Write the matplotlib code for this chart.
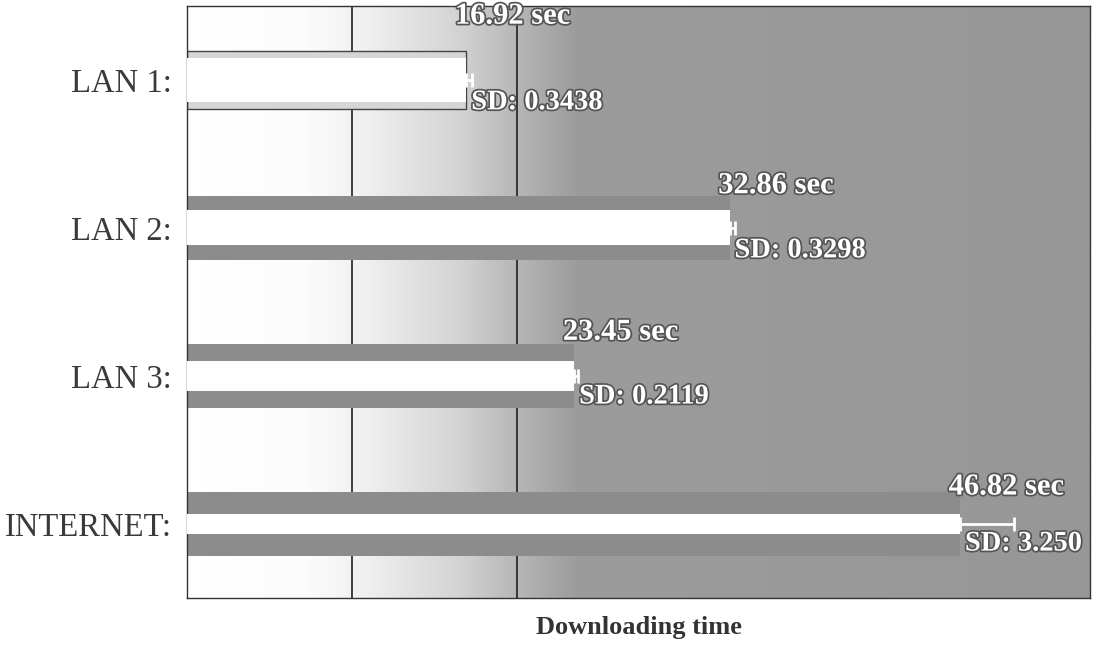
import numpy as np
import matplotlib.pyplot as plt
import matplotlib.patheffects as pe
from matplotlib.colors import LinearSegmentedColormap

categories = ['LAN 1:', 'LAN 2:', 'LAN 3:', 'INTERNET:']
times = [16.92, 32.86, 23.45, 46.82]
sds = [0.3438, 0.3298, 0.2119, 3.250]
time_labels = ['16.92 sec', '32.86 sec', '23.45 sec', '46.82 sec']
sd_labels = ['SD: 0.3438', 'SD: 0.3298', 'SD: 0.2119', 'SD: 3.250']

# look of each bar: outer band colour / height, inner white height
band_colors = ['#d6d6d6', '#8c8c8c', '#8c8c8c', '#8c8c8c']
band_h = [0.39, 0.43, 0.43, 0.43]
inner_h = [0.30, 0.236, 0.203, 0.135]
top_dy = [-0.43, -0.285, -0.295, -0.25]
sd_dy = [0.155, 0.155, 0.142, 0.135]

plt.rcParams['font.family'] = ['Liberation Serif', 'DejaVu Serif']

fig = plt.figure(figsize=(10.96, 6.48), dpi=100)
ax = fig.add_axes([0.1706, 0.077, 0.824, 0.914])

# background: white on the left fading to grey
xs = np.linspace(0, 1, 400)
shade = np.interp(xs, [0, 0.13, 0.2, 0.3, 0.37, 0.43, 1],
                  [0, 0.03, 0.15, 0.42, 0.72, 0.95, 1])
cmap = LinearSegmentedColormap.from_list('bg', ['#ffffff', '#979797'])
ax.imshow(shade[np.newaxis, :], aspect='auto', cmap=cmap, vmin=0, vmax=1,
          extent=[0, 1, 0, 1], transform=ax.transAxes, zorder=0)

y = np.arange(len(categories))
ax.barh(y, times, height=band_h, color=band_colors, zorder=2,
        edgecolor=['#444444', 'none', 'none', 'none'], linewidth=1)
ax.barh(y, times, height=inner_h, color='white', zorder=3)
ax.errorbar(times, y, xerr=[np.zeros(len(sds)), sds], fmt='none',
            ecolor='white', elinewidth=2, capsize=5, capthick=2, zorder=4)

outline = [pe.withStroke(linewidth=2.5, foreground='#555555')]
for i in range(len(categories)):
    ax.text(times[i] + 2.8, y[i] + top_dy[i], time_labels[i], ha='center', va='center',
            fontsize=22, fontweight='bold', color='white', path_effects=outline, zorder=5)
    ax.text(times[i] + 0.3, y[i] + sd_dy[i], sd_labels[i], ha='left', va='center',
            fontsize=20.5, fontweight='bold', color='white', path_effects=outline, zorder=5)

ax.set_xlim(0, 54.7)
ax.set_ylim(3.5, -0.5)
ax.set_xticks([10, 20])
ax.set_xticklabels([])
ax.grid(axis='x', color='#222222', linewidth=1.2, zorder=1)
ax.set_axisbelow(True)
ax.set_yticks(y)
ax.set_yticklabels(categories, fontsize=23.5, color='#3a3a3a')
ax.tick_params(length=0, pad=11)
for s in ax.spines.values():
    s.set_color('#333333')
    s.set_linewidth(1)

ax.set_xlabel('Downloading time', fontsize=19, fontweight='bold', color='#333333', labelpad=2)

fig.savefig('out.png', dpi=100)
